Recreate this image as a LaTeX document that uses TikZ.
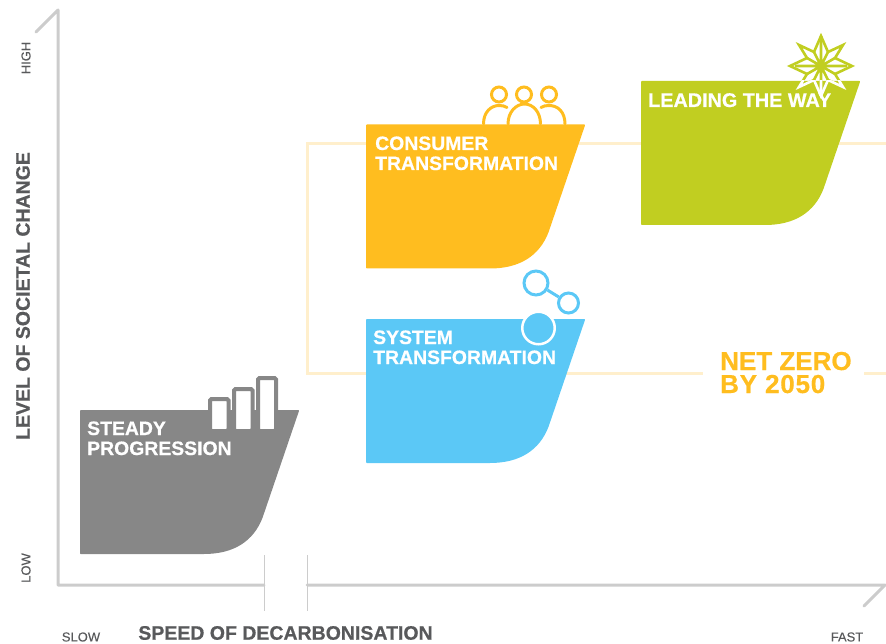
\documentclass[tikz,border=0pt]{standalone}
\usepackage{fontspec}
\setmainfont{Liberation Sans}
\newfontfamily\heavy[BoldFont={Liberation Sans Bold},BoldFeatures={FakeBold=0.6}]{Liberation Sans}
\newfontfamily\semi[FakeBold=0.25]{Liberation Sans}
\definecolor{cyellow}{HTML}{FFBD1F}
\definecolor{cgreen}{HTML}{C1CE21}
\definecolor{cblue}{HTML}{5BC8F6}
\definecolor{cgray}{HTML}{878787}
\definecolor{cpale}{HTML}{FFEFCC}
\definecolor{caxis}{HTML}{CCCCCC}
\definecolor{clabel}{HTML}{58595B}
\tikzset{
  axisline/.style={draw=caxis,line width=3pt,line join=round,line cap=round},
  breakline/.style={draw=caxis,line width=0.8pt},
  frameline/.style={draw=cpale,line width=3pt,line join=miter},
  blobtext/.style={text=white,anchor=base west,inner sep=0pt,align=left,font=\heavy\bfseries\fontsize{19.4}{20}\selectfont},
  axistitle/.style={text=clabel,inner sep=0pt,font=\heavy\bfseries\fontsize{19.5}{20}\selectfont},
  axisend/.style={text=clabel,inner sep=0pt,font=\semi\fontsize{13}{14}\selectfont},
  zerotext/.style={text=cyellow,anchor=base west,inner sep=0pt,align=left,font=\heavy\bfseries\fontsize{26}{23}\selectfont},
  pics/blob/.style={code={
    \path[fill=#1,draw=#1,line width=1.5pt,line join=round]
      (0.75,0.75) -- (218.25,0.75) -- (182,107)
      .. controls (173,131) and (153,143.25) .. (124,143.25)
      -- (0.75,143.25) -- cycle;
  }},
  barbox/.style={draw=cgray,fill=white,line width=4pt,rounded corners=1.5pt},
  peopleline/.style={draw=cyellow,line width=3pt,line cap=round},
  netline/.style={draw=cblue,line width=3pt},
  starline/.style={line width=2.6pt,line join=miter,miter limit=10},
}
\newcommand{\starpath}{(821,36) -- (828,52) -- (843,45) -- (835,58) -- (852,66) -- (835,74) -- (843,87) -- (828,80) -- (821,96) -- (814,80) -- (799,87) -- (807,74) -- (790,66) -- (807,58) -- (799,45) -- (814,52) -- cycle}
\newcommand{\starinner}{(821,36) -- (821,96) (795,66) -- (847,66) (807,58) -- (835,74) (807,74) -- (835,58) (814,52) -- (828,80) (828,52) -- (814,80)}
\begin{document}
\begin{tikzpicture}[x=1pt,y=-1pt]
\useasboundingbox (0,0) rectangle (886,644);
% frame
\coordinate (fa) at (886,144);
\coordinate (fb) at (307,144);
\coordinate (fc) at (307,373);
\coordinate (fd) at (703,373);
\coordinate (fe) at (864,373);
\coordinate (ff) at (886,373);
\draw[frameline] (fa) -- (fb) -- (fc) -- (fd);
\draw[frameline] (fe) -- (ff);
% axes
\coordinate (ya) at (36,32);
\coordinate (yb) at (58,10);
\coordinate (o) at (58,585);
\coordinate (xa) at (264,585);
\coordinate (xb) at (307,585);
\coordinate (xc) at (885,585);
\coordinate (xd) at (864,606);
\draw[axisline] (ya) -- (yb) -- (o) -- (xa);
\draw[axisline] (xb) -- (xc) -- (xd);
\coordinate (ba) at (264,555);
\coordinate (bb) at (264,611);
\coordinate (bc) at (307,555);
\coordinate (bd) at (307,611);
\draw[breakline] (ba) -- (bb);
\draw[breakline] (bc) -- (bd);
% blobs
\pic at (80,410) {blob=cgray};
\pic at (366,124.5) {blob=cyellow};
\pic at (366,319) {blob=cblue};
\pic at (641,81) {blob=cgreen};
% bars
\draw[barbox] (210,399) rectangle (228.5,431);
\draw[barbox] (234,389) rectangle (252.5,431);
\draw[barbox] (258,378) rectangle (276,431);
\path[fill=cgray] (208,429.5) rectangle (278,434);
% people
\draw[peopleline] (499,94.5) circle (7.5);
\draw[peopleline] (524,94.5) circle (7.5);
\draw[peopleline] (549,94.5) circle (7.5);
\draw[peopleline] (483.5,124) .. controls (483.5,112) and (491,105.5) .. (499,105.5) .. controls (502,105.5) and (505,106) .. (507,107.5);
\draw[peopleline] (541,107.5) .. controls (543,106) and (546,105.5) .. (549,105.5) .. controls (558,105.5) and (565,112) .. (565,124);
\draw[peopleline] (508,124) .. controls (508,112) and (516,104) .. (524.5,104) .. controls (533,104) and (540.5,112) .. (540.5,124);
% network
\node[circle,draw=cblue,line width=3pt,minimum size=24pt,inner sep=0pt] (n1) at (536,283) {};
\node[circle,draw=cblue,line width=3pt,minimum size=20pt,inner sep=0pt] (n2) at (568.5,303) {};
\draw[netline] (n1) -- (n2);
\node[circle,draw=white,fill=cblue,line width=2.5pt,minimum size=32.5pt,inner sep=0pt] (n3) at (538.5,328) {};
% star
\begin{scope}
\clip (780,25) rectangle (865,81);
\draw[cgreen,starline] \starpath;
\draw[cgreen,starline] \starinner;
\end{scope}
\begin{scope}
\clip (780,81) rectangle (865,110);
\draw[white,starline] \starpath;
\draw[white,starline] \starinner;
\end{scope}
% text
\node[blobtext] (t1) at (87,455) {STEADY\\PROGRESSION};
\node[blobtext] (t2) at (375,170) {CONSUMER\\TRANSFORMATION};
\node[blobtext] (t3) at (373,364) {SYSTEM\\TRANSFORMATION};
\node[blobtext,font=\heavy\bfseries\fontsize{19.8}{20}\selectfont] (t4) at (648,107) {LEADING THE WAY};
\node[zerotext] (t5) at (720,393) {NET ZERO\\{\addfontfeature{LetterSpace=3}BY 2050}};
\node[axistitle,rotate=90] (l1) at (23,296) {LEVEL OF SOCIETAL CHANGE};
\node[axistitle] (l2) at (285.5,633) {SPEED OF DECARBONISATION};
\node[axisend,rotate=90] (l3) at (26,58) {HIGH};
\node[axisend,rotate=90] (l4) at (26,568) {LOW};
\node[axisend] (l5) at (81,637) {SLOW};
\node[axisend] (l6) at (847,637) {FAST};
\end{tikzpicture}
\end{document}
